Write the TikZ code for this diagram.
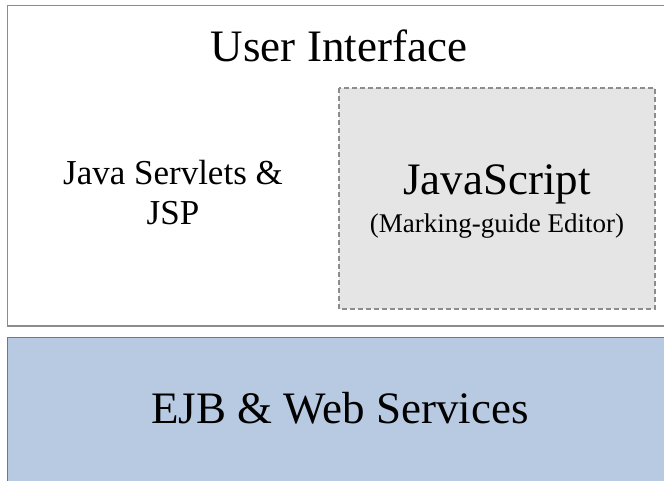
\documentclass[tikz,border=0pt]{standalone}
\usepackage{fontspec}
\setmainfont{Liberation Serif}
\usetikzlibrary{positioning}
\definecolor{layerblue}{RGB}{184,201,226}
\definecolor{editorgray}{RGB}{229,229,229}
\definecolor{framegray}{RGB}{140,140,140}
\definecolor{layerline}{RGB}{110,120,135}

\begin{document}
\begin{tikzpicture}[x=1pt,y=-1pt,
  big/.style={font=\fontsize{45}{54}\selectfont, inner sep=0pt},
  mid/.style={font=\fontsize{35}{40}\selectfont, inner sep=0pt},
  small/.style={font=\fontsize{27}{32}\selectfont, inner sep=0pt}]
  \useasboundingbox (0,0) rectangle (664,481);
  % user interface layer
  \draw[framegray, line width=1.5pt] (7.5,5.5) rectangle (690,326);
  \node[big, anchor=base] (ui) at (339,62) {User Interface};
  \node[mid, anchor=base] (servlets) at (173,185) {Java Servlets \&};
  \node[mid, anchor=base] (jsp) at (173,225) {JSP};
  % editor
  \draw[framegray, fill=editorgray, line width=1.2pt,
    dash pattern=on 5pt off 3pt] (339,88) rectangle (655,309);
  \node[big, anchor=base] (js) at (497,195) {JavaScript};
  \node[small, anchor=base] (editor) at (497,233) {(Marking-guide Editor)};
  % business layer
  \draw[layerline, fill=layerblue, line width=1.5pt] (7.5,337.5) rectangle (690,500);
  \node[big, anchor=base] (ejb) at (340,423) {EJB \& Web Services};
\end{tikzpicture}
\end{document}
